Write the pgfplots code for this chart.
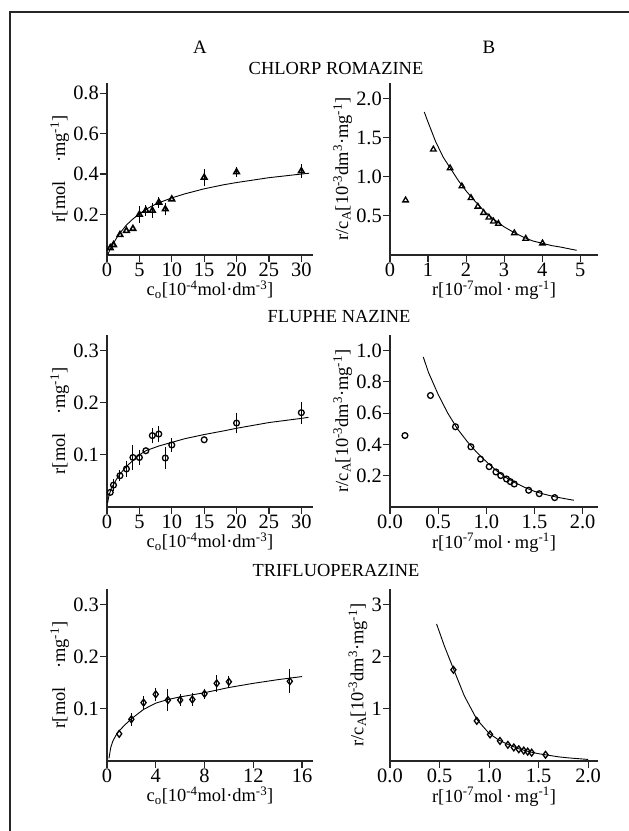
\documentclass[border=0pt]{standalone}
\usepackage{fontspec}
\setmainfont{Liberation Serif}
\usepackage{pgfplots}
\pgfplotsset{compat=1.18}

\pgfplotsset{
  panel/.style={
    scale only axis, width=206bp, height=172bp,
    axis lines*=left, tick align=outside, major tick length=7bp,
    axis line style={black!85, line width=1.1bp},
    tick style={black!85, line width=1.1bp},
    xmin=0, ymin=0, clip=false,
    tick label style={font=\fontsize{20.5}{24}\selectfont, inner sep=1bp},
    label style={font=\fontsize{18.5}{22}\selectfont, inner sep=1bp},
    xlabel shift=2bp, ylabel shift=2bp,
    /pgf/number format/assume math mode=true,
  },
  onedec/.style={/pgf/number format/.cd, fixed, fixed zerofill, precision=1},
  fitline/.style={no marks, line width=0.9bp, black},
  pts/.style={only marks, black, mark size=3.2bp,
              mark options={line width=1.3bp, fill=white}},
  errs/.style={pts, error bars/y dir=both, error bars/y explicit,
               error bars/error bar style={line width=1bp, black},
               error bars/error mark options={line width=1bp, mark size=3.6bp, black}},
}
\newcommand{\ylabA}{r[mol\quad\textperiodcentered mg\textsuperscript{-1}]}
\newcommand{\xlabA}{c\textsubscript{o}[10\textsuperscript{-4}mol\textperiodcentered dm\textsuperscript{-3}]}
\newcommand{\ylabB}{r/c\textsubscript{A}[10\textsuperscript{-3}dm\textsuperscript{3}\textperiodcentered mg\textsuperscript{-1}]}
\newcommand{\xlabB}{r[10\textsuperscript{-7}mol\,\textperiodcentered\,mg\textsuperscript{-1}]}

\begin{document}
\begin{tikzpicture}[x=1bp, y=1bp]
\useasboundingbox (0,0) rectangle (629,831);
\draw[line width=2bp, black!85] (10,0) -- (10,819) -- (629,819);

\node[font=\fontsize{19}{21}\selectfont] at (200,784) {A};
\node[font=\fontsize{19}{21}\selectfont] at (489,784) {B};
\node[font=\fontsize{18.5}{20}\selectfont] at (336,763) {CHLORP ROMAZINE};
\node[font=\fontsize{18.5}{20}\selectfont] at (339,514) {FLUPHE NAZINE};
\node[font=\fontsize{18.5}{20}\selectfont] at (336,261) {TRIFLUOPERAZINE};

% ---- chlorpromazine, adsorption isotherm
\begin{axis}[panel, at={(107bp,576bp)}, anchor=south west,
  xmax=31.8, ymax=0.85, xtick={0,5,...,30}, ytick={0.2,0.4,0.6,0.8},
  xlabel={\xlabA}, ylabel={\ylabA}]
\addplot[fitline] coordinates {(0.1,0) (0.3,0.015) (0.5,0.03) (1,0.058) (1.5,0.085)
  (2,0.108) (3,0.148) (4,0.178) (5,0.203) (6,0.225) (7,0.243) (8,0.258) (10,0.282)
  (12,0.302) (15,0.327) (18,0.347) (20,0.358) (25,0.382) (30,0.400) (31.2,0.404)};
\addplot[errs, mark=triangle, mark options={line width=1.6bp}] coordinates {
  (5,0.20) +- (0,0.022) (6,0.22) +- (0,0.01) (7,0.22) +- (0,0.02) (8,0.26) +- (0,0.008)
  (9,0.227) +- (0,0.013) (15,0.383) +- (0,0.024) (20,0.41) +- (0,0.008) (30,0.415) +- (0,0.015)};
\addplot[pts, mark=triangle, mark options={line width=1.6bp}] coordinates {
  (0.5,0.035) (1,0.05) (2,0.10) (3,0.12) (4,0.13) (10,0.276)};
\end{axis}

% ---- chlorpromazine, Scatchard
\begin{axis}[panel, at={(390bp,576bp)}, anchor=south west, width=208bp,
  xmax=5.47, ymax=2.2, xtick={0,1,2,3,4,5}, ytick={0.5,1,1.5,2},
  yticklabel style={onedec},
  xlabel={\xlabB}, ylabel={\ylabB}]
\addplot[fitline] coordinates {(0.9,1.83) (1.0,1.70) (1.2,1.45) (1.4,1.25) (1.6,1.10)
  (1.8,0.95) (2.0,0.82) (2.25,0.68) (2.5,0.55) (2.75,0.45) (3.0,0.36) (3.25,0.29)
  (3.5,0.23) (3.75,0.18) (4.0,0.15) (4.25,0.12) (4.5,0.10) (4.75,0.075) (4.91,0.06)};
\addplot[pts, mark=triangle] coordinates {
  (0.41,0.70) (1.14,1.35) (1.58,1.11) (1.89,0.88) (2.13,0.73) (2.31,0.62) (2.46,0.54)
  (2.60,0.48) (2.72,0.43) (2.85,0.40) (3.27,0.28) (3.57,0.21) (4.01,0.15)};
\end{axis}

% ---- fluphenazine, adsorption isotherm
\begin{axis}[panel, at={(107bp,324bp)}, anchor=south west,
  xmax=31.8, ymax=0.33, xtick={0,5,...,30}, ytick={0.1,0.2,0.3},
  xlabel={\xlabA}, ylabel={\ylabA}]
\addplot[fitline] coordinates {(0.1,0.008) (0.3,0.022) (0.7,0.037) (1,0.043) (1.5,0.054)
  (2,0.063) (3,0.078) (4,0.089) (5,0.100) (6,0.108) (8,0.117) (10,0.124) (12,0.131)
  (15,0.139) (18,0.146) (20,0.151) (25,0.162) (30,0.170) (31.1,0.172)};
\addplot[errs, mark=o, mark size=2.9bp] coordinates {
  (1,0.042) +- (0,0.004) (2,0.060) +- (0,0.004) (3,0.073) +- (0,0.008)
  (4,0.095) +- (0,0.017) (5,0.095) +- (0,0.008) (7,0.137) +- (0,0.008)
  (8,0.140) +- (0,0.008) (9,0.094) +- (0,0.015) (10,0.119) +- (0,0.006)
  (20,0.161) +- (0,0.013) (30,0.181) +- (0,0.014)};
\addplot[pts, mark=o, mark size=2.9bp] coordinates {
  (0.5,0.028) (6,0.108) (15,0.129)};
\end{axis}

% ---- fluphenazine, Scatchard
\begin{axis}[panel, at={(390bp,324bp)}, anchor=south west, width=208bp,
  xmax=2.16, ymax=1.1, xtick={0,0.5,1,1.5,2}, ytick={0.2,0.4,0.6,0.8,1.0},
  xticklabel style={onedec}, yticklabel style={onedec},
  xlabel={\xlabB}, ylabel={\ylabB}]
\addplot[fitline] coordinates {(0.345,0.96) (0.4,0.86) (0.5,0.72) (0.6,0.60) (0.7,0.50)
  (0.8,0.42) (0.9,0.35) (1.0,0.29) (1.1,0.235) (1.2,0.19) (1.3,0.155) (1.4,0.125)
  (1.5,0.10) (1.6,0.082) (1.7,0.067) (1.8,0.055) (1.91,0.043)};
\addplot[pts, mark=o, mark size=2.9bp] coordinates {
  (0.155,0.457) (0.42,0.713) (0.68,0.513) (0.84,0.385) (0.94,0.306) (1.03,0.258)
  (1.10,0.224) (1.15,0.201) (1.21,0.179) (1.25,0.162) (1.29,0.147) (1.44,0.107)
  (1.55,0.085) (1.71,0.060)};
\end{axis}

% ---- trifluoperazine, adsorption isotherm
\begin{axis}[panel, at={(107bp,70bp)}, anchor=south west,
  xmax=16.9, ymax=0.33, xtick={0,4,8,12,16}, ytick={0.1,0.2,0.3},
  xlabel={\xlabA}, ylabel={\ylabA}]
\addplot[fitline] coordinates {(0.16,0.005) (0.3,0.025) (0.46,0.037) (0.7,0.048) (1,0.058)
  (1.5,0.070) (2,0.081) (3,0.099) (4,0.111) (5,0.118) (6,0.123) (8,0.131) (10,0.141)
  (12,0.149) (14,0.156) (16,0.162)};
\addplot[errs, mark=diamond, mark size=3.4bp] coordinates {
  (2,0.080) +- (0,0.005) (3,0.112) +- (0,0.005) (4,0.128) +- (0,0.006)
  (5,0.117) +- (0,0.014) (6,0.117) +- (0,0.005) (7,0.118) +- (0,0.006)
  (8,0.129) +- (0,0.003) (9,0.149) +- (0,0.009) (10,0.152) +- (0,0.005)
  (15,0.153) +- (0,0.016)};
\addplot[pts, mark=diamond, mark size=3.4bp] coordinates {(1,0.052)};
\end{axis}

% ---- trifluoperazine, Scatchard
\begin{axis}[panel, at={(390bp,70bp)}, anchor=south west, width=208bp,
  xmax=2.1, ymax=3.3, xtick={0,0.5,1,1.5,2}, ytick={1,2,3},
  xticklabel style={onedec},
  xlabel={\xlabB}, ylabel={\ylabB}]
\addplot[fitline] coordinates {(0.47,2.63) (0.55,2.2) (0.64,1.77) (0.75,1.25) (0.876,0.80)
  (1.0,0.53) (1.1,0.40) (1.2,0.31) (1.3,0.235) (1.4,0.18) (1.5,0.14) (1.6,0.11)
  (1.7,0.08) (1.8,0.06) (1.9,0.045) (2.0,0.03)};
\addplot[pts, mark=diamond, mark size=3.4bp] coordinates {
  (0.64,1.75) (0.876,0.77) (1.01,0.51) (1.11,0.385) (1.19,0.31) (1.25,0.26)
  (1.30,0.225) (1.35,0.20) (1.39,0.18) (1.43,0.16) (1.57,0.12)};
\end{axis}
\end{tikzpicture}
\end{document}
